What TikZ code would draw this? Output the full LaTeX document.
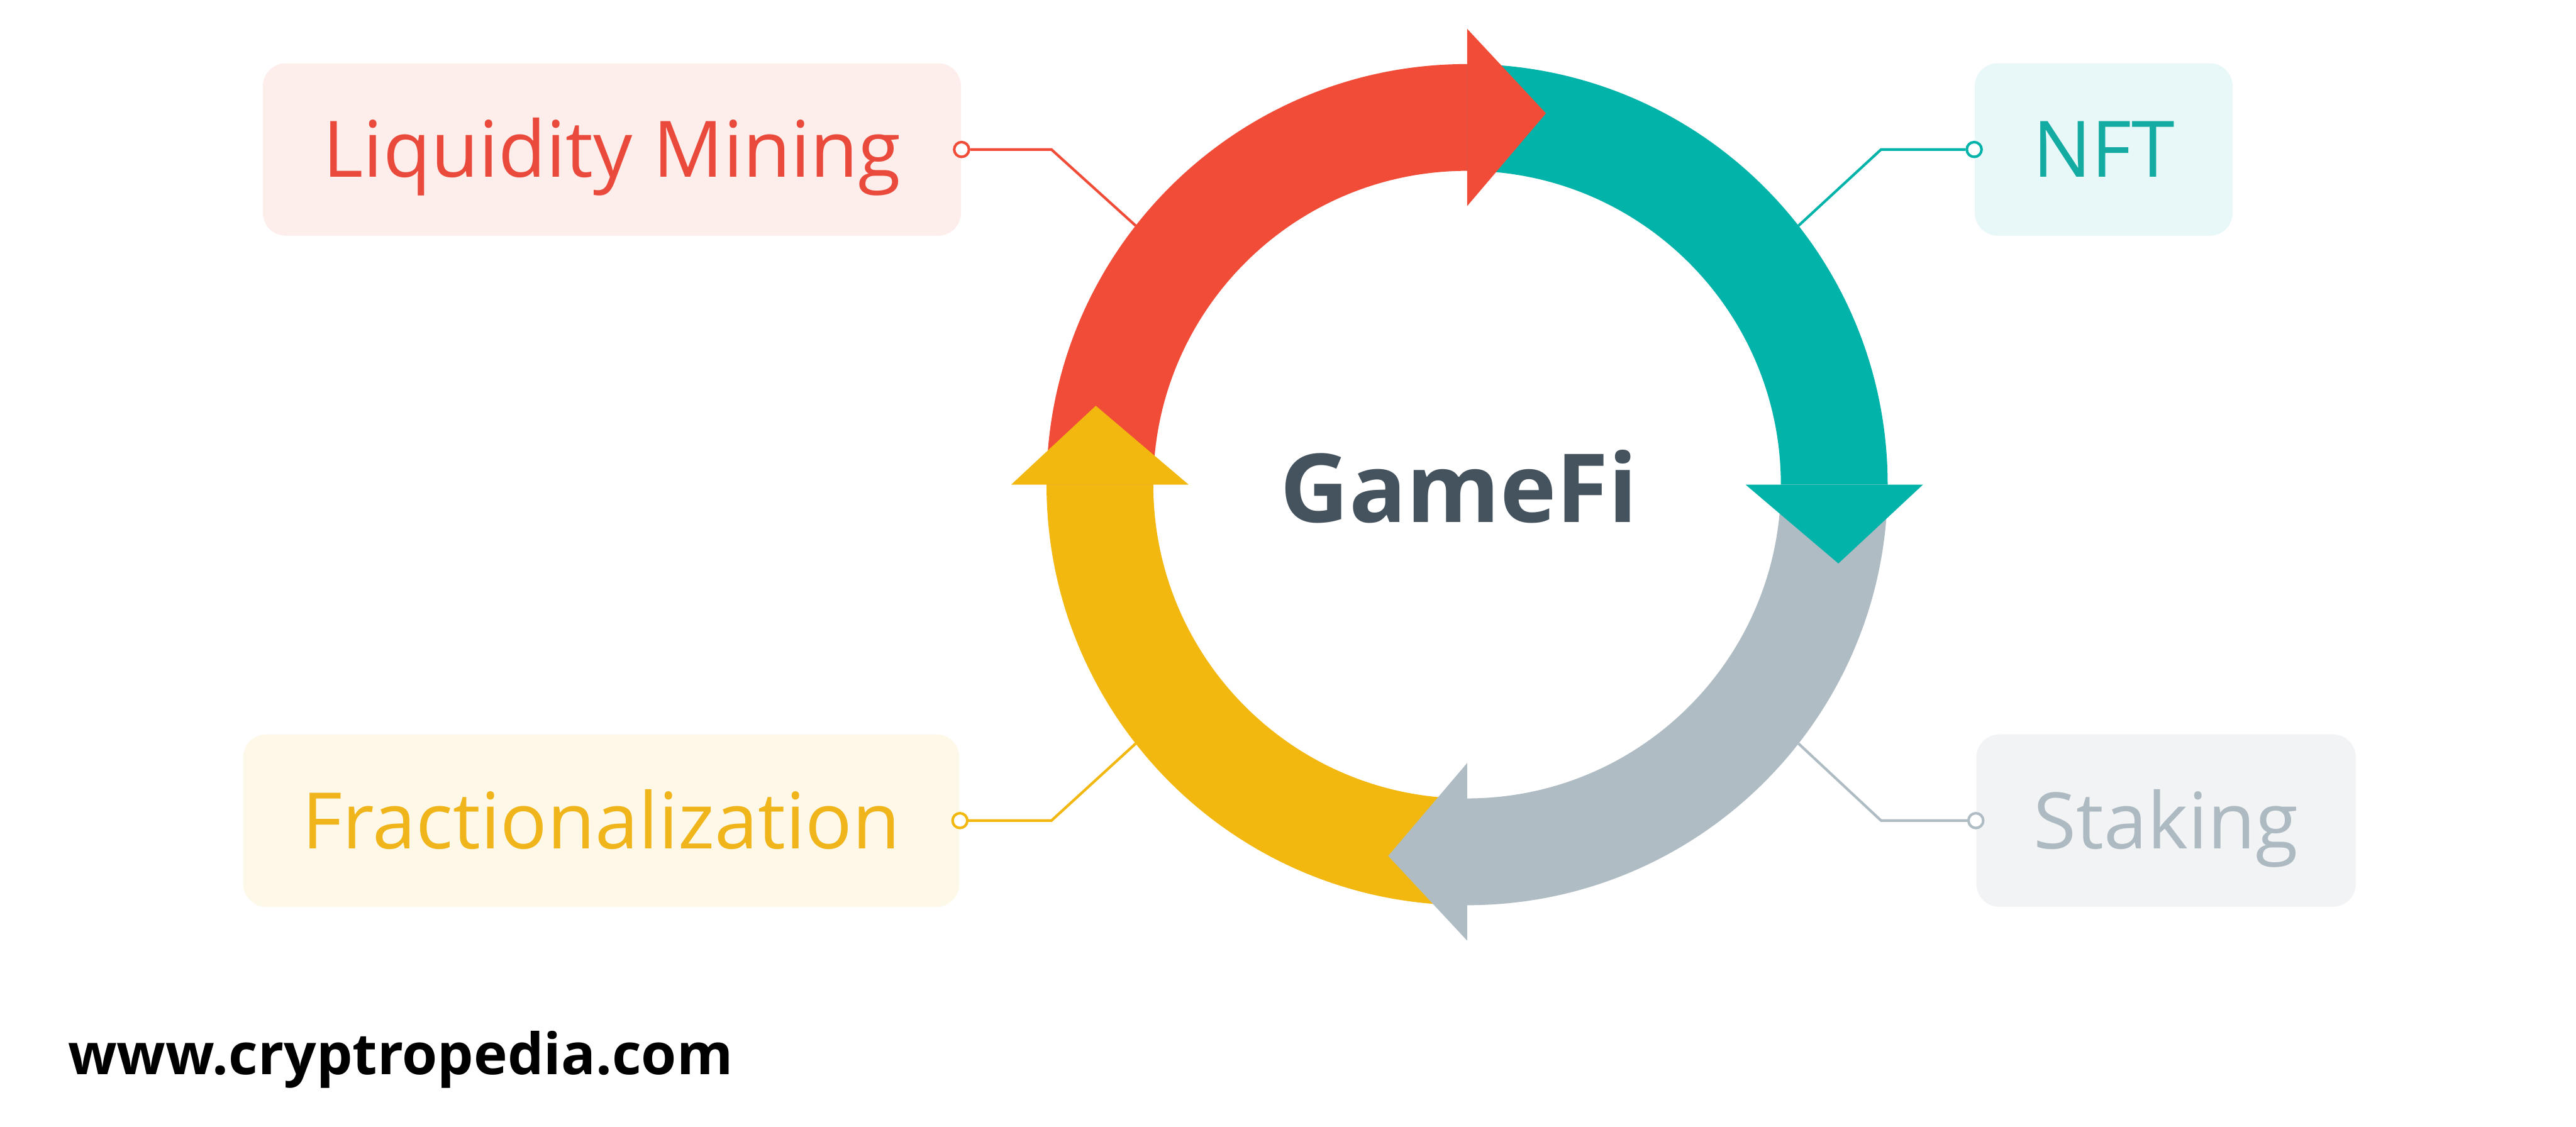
\documentclass[tikz,border=0pt]{standalone}
\usepackage{fontspec}
\setmainfont{Open Sans}
\usetikzlibrary{calc}
\definecolor{cRed}{HTML}{F04C37}
\definecolor{cTeal}{HTML}{02B3AA}
\definecolor{cGray}{HTML}{AFBCC4}
\definecolor{cYellow}{HTML}{F2B80F}
\definecolor{cDark}{HTML}{45535F}
\definecolor{tRed}{HTML}{E94A3C}
\definecolor{tTeal}{HTML}{14ABA3}
\definecolor{tYellow}{HTML}{F0B51A}
\definecolor{tGray}{HTML}{AEBAC1}
\definecolor{bRed}{HTML}{FDEDEB}
\definecolor{bTeal}{HTML}{E8F7F8}
\definecolor{bYellow}{HTML}{FEF8E8}
\definecolor{bGray}{HTML}{F1F3F5}
\begin{document}
\begin{tikzpicture}[x=0.02cm,y=0.02cm,
  lbl/.style={rounded corners=0.28cm, minimum height=2.1cm, text height=19.3pt,
    text depth=0pt, inner sep=0pt, font=\fontsize{27}{30}\selectfont},
  link/.style={line width=0.9pt},
  dot/.style={circle, draw, fill=white, line width=0.9pt, minimum size=0.18cm, inner sep=0pt}]
\useasboundingbox[fill=white] (0,0) rectangle (1568,686);
\coordinate (C) at (893,391);

% label boxes
\node[lbl, fill=bRed, text=tRed, minimum width=8.5cm] (liq) at (372.5,595) {Liquidity Mining};
\node[lbl, fill=bTeal, text=tTeal, minimum width=3.14cm] (nft) at (1280.5,595) {NFT};
\node[lbl, fill=bYellow, text=tYellow, minimum width=8.72cm] (frac) at (366,186.5) {Fractionalization};
\node[lbl, fill=bGray, text=tGray, minimum width=4.62cm] (stak) at (1318.5,186.5) {Staking};

% connectors
\node[dot, draw=cRed] (liqdot) at (liq.east) {};
\node[dot, draw=cTeal] (nftdot) at (nft.west) {};
\node[dot, draw=cYellow] (fracdot) at (frac.east) {};
\node[dot, draw=cGray] (stakdot) at (stak.west) {};
\coordinate (liqbend) at (640,595);
\coordinate (nftbend) at (1145,595);
\coordinate (fracbend) at (640,186.5);
\coordinate (stakbend) at (1145,186.5);
\coordinate (liqring) at ($(C)+(142:256)$);
\coordinate (nftring) at ($(C)+(38:256)$);
\coordinate (fracring) at ($(C)+(-142:256)$);
\coordinate (stakring) at ($(C)+(-38:256)$);
\draw[link, cRed] (liqdot) -- (liqbend) -- (liqring);
\draw[link, cTeal] (nftdot) -- (nftbend) -- (nftring);
\draw[link, cYellow] (fracdot) -- (fracbend) -- (fracring);
\draw[link, cGray] (stakdot) -- (stakbend) -- (stakring);

% ring bodies
\foreach \a/\c [evaluate=\a as \b using \a-90] in {180/cRed, 90/cTeal, 0/cGray, -90/cYellow}{
  \fill[\c] ($(C)+(\a:256)$) arc[start angle=\a, end angle=\b, radius=256]
    -- ($(C)+(\b:191)$) arc[start angle=\b, end angle=\a, radius=191] -- cycle;
}
% arrow heads
\foreach \a/\c [evaluate=\a as \b using \a-90] in {90/cRed, 0/cTeal, -90/cGray, -180/cYellow}{
  \fill[\c] ($(C)+(\a:169.5)$) -- ($(C)+(\a:277.5)$) -- ($(C)+(\a:226)+(\b:48)$) -- cycle;
}

\node[font=\fontsize{33}{40}\selectfont\bfseries, text=cDark, anchor=base] (game) at (888,368) {GameFi};
\node[font=\fontsize{19.8}{22}\selectfont\bfseries, text=black, anchor=base west, inner sep=0pt] (www) at (41,32) {www.cryptropedia.com};
\end{tikzpicture}
\end{document}
